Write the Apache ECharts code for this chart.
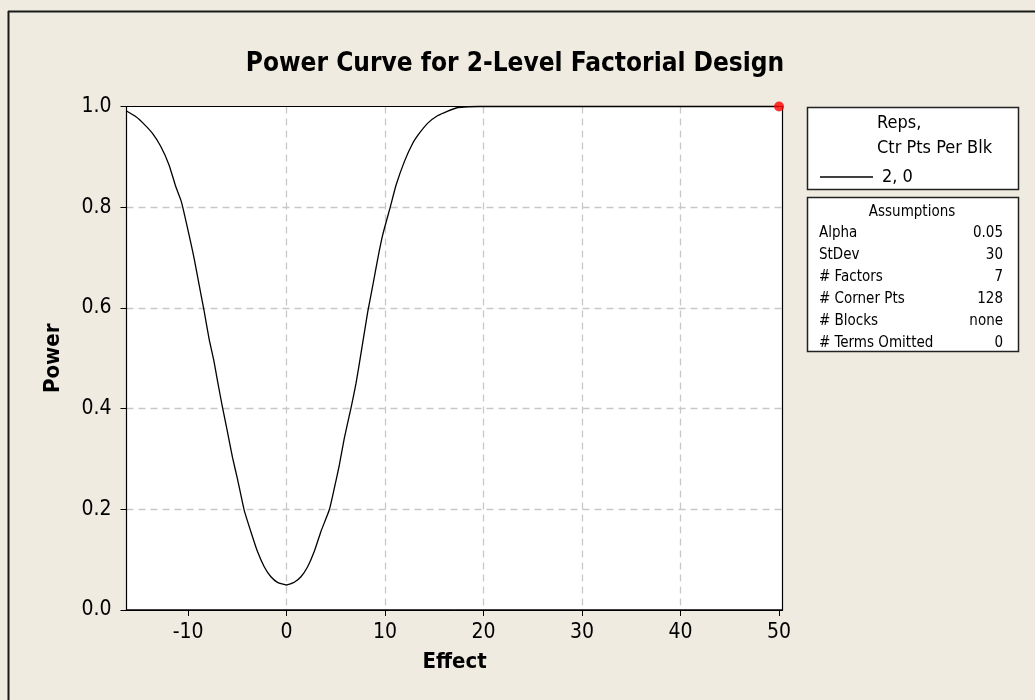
<!DOCTYPE html>
<html>
<head>
<meta charset="utf-8">
<script src="https://cdn.jsdelivr.net/npm/echarts@6/dist/echarts.min.js"></script>
<style>
html,body{margin:0;padding:0;background:#EFEBE1;}
#chart{width:1035px;height:700px;}
</style>
</head>
<body>
<div id="chart"></div>
<script>
var effect = [-16.25,-15.32,-14.47,-13.63,-12.78,-11.93,-11.25,-10.68,-9.90,-9.39,-8.88,-8.37,-7.86,-7.36,-7.02,-6.51,-6.0,-5.49,-4.98,-4.31,-3.63,-2.95,-2.27,-1.59,-0.92,0,0.78,1.46,2.14,2.81,3.49,4.34,4.85,5.36,5.86,6.54,7.05,7.56,8.24,8.75,9.25,9.76,10.54,11.12,11.97,12.81,13.49,14.34,15.36,16.37,17.39,18.5,19.5,25,30,35,40,45,50];
var power = [0.991,0.980,0.965,0.947,0.921,0.884,0.841,0.811,0.745,0.699,0.646,0.594,0.538,0.493,0.456,0.403,0.354,0.303,0.260,0.199,0.156,0.116,0.086,0.066,0.055,0.0497,0.055,0.066,0.086,0.116,0.156,0.199,0.242,0.288,0.341,0.401,0.450,0.510,0.592,0.644,0.697,0.745,0.801,0.844,0.891,0.927,0.947,0.967,0.982,0.991,0.998,0.9995,1.0,1,1,1,1,1,1];
var targetPoint = [[50, 1.0]];
var xTicks = [-10,0,10,20,30,40,50];
var legendLines = ['Reps,', 'Ctr Pts Per Blk'];
var seriesName = '2, 0';
var assumpLabels = ['Alpha','StDev','# Factors','# Corner Pts','# Blocks','# Terms Omitted'];
var assumpValues = ['0.05','30','7','128','none','0'];

var FONT = "'DejaVu Sans Condensed','DejaVu Sans',sans-serif";
var chart = echarts.init(document.getElementById('chart'));

var curve = effect.map(function(x,i){return [x, power[i]];});

var graphics = [
  {type:'line', shape:{x1:8,y1:11.5,x2:1035,y2:11.5}, style:{stroke:'#1a1a1a',lineWidth:2}, silent:true},
  {type:'line', shape:{x1:8.5,y1:11,x2:8.5,y2:700}, style:{stroke:'#1a1a1a',lineWidth:2}, silent:true},
  {type:'rect', shape:{x:807.5,y:107.5,width:211,height:82}, style:{fill:'#fff',stroke:'#222',lineWidth:1.5}, z:0},
  {type:'rect', shape:{x:807.5,y:197.5,width:211,height:154}, style:{fill:'#fff',stroke:'#222',lineWidth:1.5}, z:0},
  {type:'rect', shape:{x:126.5,y:106.5,width:656,height:503.5}, style:{fill:'none',stroke:'#000',lineWidth:1.2}, z:20, silent:true}
];
legendLines.forEach(function(t,i){
  graphics.push({type:'text', x:877, y:123+25*i, z:5, style:{text:t, font:'18px '+FONT, fill:'#000', verticalAlign:'middle'}});
});
graphics.push({type:'text', x:912, y:212, z:5, style:{text:'Assumptions', font:'15px '+FONT, fill:'#000', align:'center', verticalAlign:'middle'}});
var rowY = [233,255.5,277.5,299.5,321.5,343];
assumpLabels.forEach(function(t,i){
  graphics.push({type:'text', x:819, y:rowY[i], z:5, style:{text:t, font:'15px '+FONT, fill:'#000', align:'left', verticalAlign:'middle'}});
  graphics.push({type:'text', x:1003, y:rowY[i], z:5, style:{text:assumpValues[i], font:'15px '+FONT, fill:'#000', align:'right', verticalAlign:'middle'}});
});

chart.setOption({
  backgroundColor:'#EFEBE1',
  animation:false,
  title:{
    text:'Power Curve for 2-Level Factorial Design',
    left:510, top:44, textAlign:'center',
    textStyle:{fontFamily:FONT, fontWeight:'bold', fontSize:26, color:'#000', lineHeight:31}
  },
  legend:{
    left:815, top:163, icon:'rect', itemWidth:53, itemHeight:1.5,
    data:[seriesName],
    textStyle:{fontFamily:FONT, fontSize:18, color:'#000', padding:[0,0,0,4]},
    z:10
  },
  grid:{left:126.5, right:252.5, top:106.5, bottom:90, show:true, backgroundColor:'#fff', borderColor:'#000', borderWidth:1, containLabel:false},
  xAxis:{
    type:'value', min:-16.25, max:50.35,
    name:'Effect', nameLocation:'middle', nameGap:41,
    nameTextStyle:{fontFamily:FONT, fontWeight:'bold', fontSize:22, color:'#000'},
    axisLine:{show:true, onZero:false, lineStyle:{color:'#000', width:1}},
    axisTick:{show:true, length:6, customValues:xTicks, lineStyle:{color:'#000'}},
    axisLabel:{customValues:xTicks, margin:12, fontFamily:FONT, fontSize:21, color:'#000'},
    splitLine:{show:true, showMinLine:false, showMaxLine:false, lineStyle:{color:'#C8C8C8', type:[7,5], width:1.3}}
  },
  yAxis:{
    type:'value', min:0, max:1, interval:0.2,
    name:'Power', nameLocation:'middle', nameGap:62,
    nameTextStyle:{fontFamily:FONT, fontWeight:'bold', fontSize:22, color:'#000'},
    axisLine:{show:true, onZero:false, lineStyle:{color:'#000', width:1}},
    axisTick:{show:true, length:6, lineStyle:{color:'#000'}},
    axisLabel:{margin:15, fontFamily:FONT, fontSize:21, color:'#000', formatter:function(v){return v.toFixed(1);}},
    splitLine:{show:true, showMinLine:false, showMaxLine:false, lineStyle:{color:'#C8C8C8', type:[7,5], width:1.3}}
  },
  graphic:graphics,
  series:[
    {name:seriesName, type:'line', data:curve, showSymbol:false, symbol:'none', smooth:0.15,
     lineStyle:{color:'#000', width:1.3}, itemStyle:{color:'#000'}, clip:false, z:3},
    {name:'target', type:'scatter', data:targetPoint, symbolSize:10, itemStyle:{color:'#FF0000'}, clip:false, z:30}
  ]
});
</script>
</body>
</html>
